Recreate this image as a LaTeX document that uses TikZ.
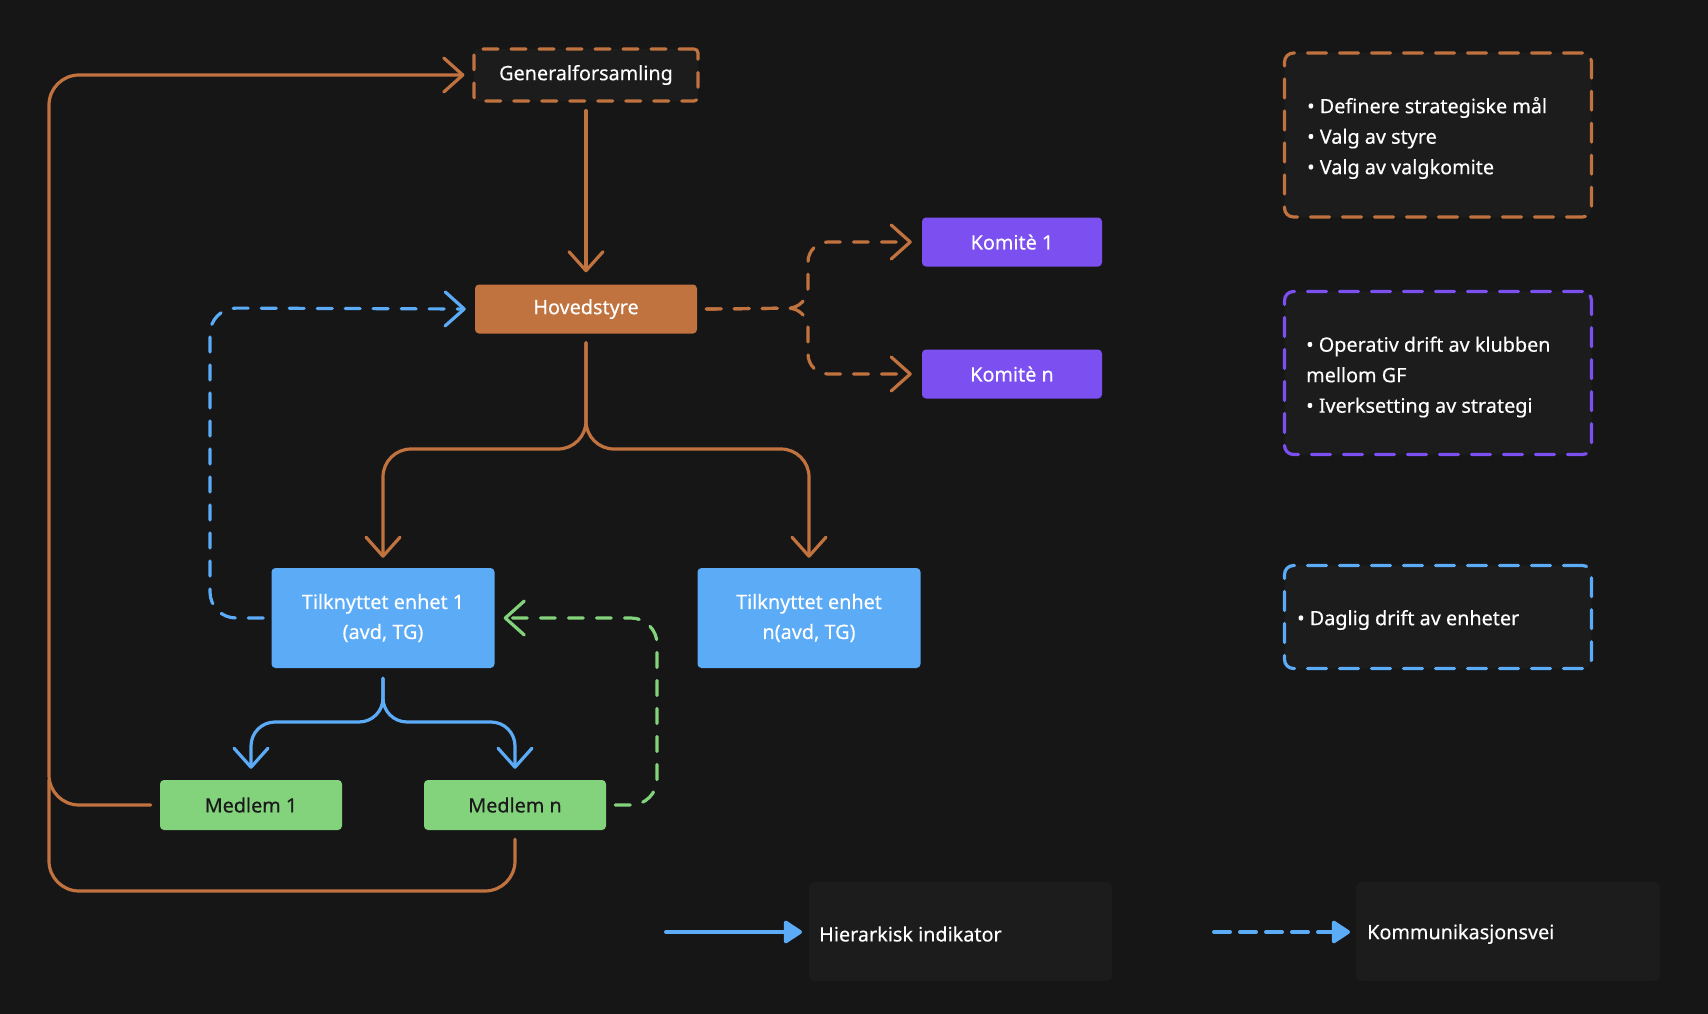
\documentclass[tikz,border=0pt]{standalone}
\usepackage{fontspec}
\setmainfont{Noto Sans}[FakeBold=0.35]
\usetikzlibrary{arrows.meta,calc}
\definecolor{bg}{HTML}{171617}
\definecolor{org}{HTML}{C0723F}
\definecolor{pur}{HTML}{7C4FF1}
\definecolor{blu}{HTML}{5BABF6}
\definecolor{grn}{HTML}{83D37C}
\definecolor{card}{HTML}{1C1C1C}
\definecolor{dtext}{HTML}{1A1A1A}
\begin{document}
\begin{tikzpicture}[x=1pt,y=-1pt,
  box/.style={rectangle, rounded corners=4pt, inner sep=0pt, align=center,
    font=\fontsize{19.8}{30}\selectfont, text=white},
  lbox/.style={rectangle, rounded corners=9pt, inner sep=0pt, fill=card,
    line width=3.2pt, dash pattern=on 19pt off 13pt, line cap=round},
  ltext/.style={anchor=west, inner sep=0pt, align=left, text=white,
    font=\fontsize{19.8}{30.5}\selectfont},
  arr/.style={-{Straight Barb[length=19pt,width=34pt,line width=3.2pt,round]}},
  oline/.style={draw=org, line width=3.2pt, line cap=round, line join=round},
  odash/.style={oline, dash pattern=on 15pt off 13pt},
  bline/.style={draw=blu, line width=3.2pt, line cap=round, line join=round},
  bdash/.style={bline, dash pattern=on 15pt off 13pt},
  gdash/.style={draw=grn, line width=3.2pt, line cap=round, line join=round, dash pattern=on 15pt off 13pt},
]
\fill[bg] (0,0) rectangle (1708,1014);
\useasboundingbox (0,0) rectangle (1708,1014);

% main nodes
\node[box, fill=card, draw=org, line width=3.2pt, dash pattern=on 15pt off 13pt, line cap=round,
  minimum width=224pt, minimum height=52pt] (gen) at (586,75) {Generalforsamling};
\node[box, fill=org, minimum width=222pt, minimum height=49pt] (hov) at (586,309) {Hovedstyre};
\node[box, fill=pur, minimum width=180pt, minimum height=49pt] (k1) at (1012,242) {Komitè 1};
\node[box, fill=pur, minimum width=180pt, minimum height=49pt] (kn) at (1012,374) {Komitè n};
\node[box, fill=blu, minimum width=223pt, minimum height=100pt] (tk1) at (383,618) {Tilknyttet enhet 1\\(avd, TG)};
\node[box, fill=blu, minimum width=223pt, minimum height=100pt] (tkn) at (809,618) {Tilknyttet enhet\\n(avd, TG)};
\node[box, fill=grn, text=dtext, minimum width=182pt, minimum height=50pt] (m1) at (251,805) {Medlem 1};
\node[box, fill=grn, text=dtext, minimum width=182pt, minimum height=50pt] (mn) at (515,805) {Medlem n};

% legend boxes right
\node[lbox, draw=org, minimum width=307pt, minimum height=164pt] (lb1) at (1438,135) {};
\node[lbox, draw=pur, minimum width=307pt, minimum height=163pt] (lb2) at (1438,373) {};
\node[lbox, draw=blu, minimum width=307pt, minimum height=103pt] (lb3) at (1438,617) {};
\node[ltext] (t1) at (1307,138) {• Definere strategiske mål\\• Valg av styre\\• Valg av valgkomite};
\node[ltext] (t2) at (1306,377) {• Operativ drift av klubben\\mellom GF\\• Iverksetting av strategi};
\node[ltext] (t3) at (1297,620) {• Daglig drift av enheter};

% bottom legend
\node[rectangle, rounded corners=6pt, fill=card, minimum width=303pt, minimum height=99pt, inner sep=0pt] (lg1) at (960.5,931.5) {};
\node[rectangle, rounded corners=6pt, fill=card, minimum width=304pt, minimum height=99pt, inner sep=0pt] (lg2) at (1508,931.5) {};
\node[ltext] (lt1) at (819,934) {Hierarkisk indikator};
\node[ltext] (lt2) at (1367,934) {Kommunikasjonsvei};
\coordinate (a1s) at (666,932);
\coordinate (a1e) at (802,932);
\coordinate (a2s) at (1214,932);
\coordinate (a2e) at (1350,932);
\draw[draw=blu, line width=4pt, line cap=round, -{Triangle[length=20pt,width=25pt,round]}] (a1s) -- (a1e);
\draw[draw=blu, line width=4pt, line cap=round, dash pattern=on 16pt off 10pt, -{Triangle[length=20pt,width=25pt,round]}] (a2s) -- (a2e);

% connectors
\draw[oline, arr] ($(gen.south)+(0,8)$) -- ($(hov.north)+(0,-12)$);
\draw[oline, arr, rounded corners=28pt] ($(hov.south)+(0,9)$) -- (586,449) -| ($(tk1.north)+(0,-10)$);
\draw[oline, arr, rounded corners=28pt] ($(hov.south)+(0,9)$) -- (586,449) -| ($(tkn.north)+(0,-10)$);
\draw[odash, arr, rounded corners=20pt] ($(hov.east)+(9,0)$) -- (808,308) |- ($(k1.west)+(-10,0)$);
\draw[odash, arr, rounded corners=20pt] ($(hov.east)+(9,0)$) -- (808,308) |- ($(kn.west)+(-10,0)$);
\draw[bdash, arr, rounded corners=26pt] ($(tk1.west)+(-8,0)$) -| (210,308) -- ($(hov.west)+(-9,0)$);
\draw[gdash, arr, rounded corners=26pt] ($(mn.east)+(9,0)$) -| (657,618) -- ($(tk1.east)+(9,0)$);
\draw[bline, arr, rounded corners=24pt] ($(tk1.south)+(0,10)$) -- (383,722) -| ($(m1.north)+(0,-11)$);
\draw[bline, arr, rounded corners=24pt] ($(tk1.south)+(0,10)$) -- (383,722) -| ($(mn.north)+(0,-11)$);
\draw[oline, arr, rounded corners=30pt] ($(m1.west)+(-9,0)$) -| (49,75) -- ($(gen.west)+(-8,0)$);
\draw[oline, rounded corners=30pt] ($(mn.south)+(0,9)$) |- (49,891) -- (49,780);
\end{tikzpicture}
\end{document}
